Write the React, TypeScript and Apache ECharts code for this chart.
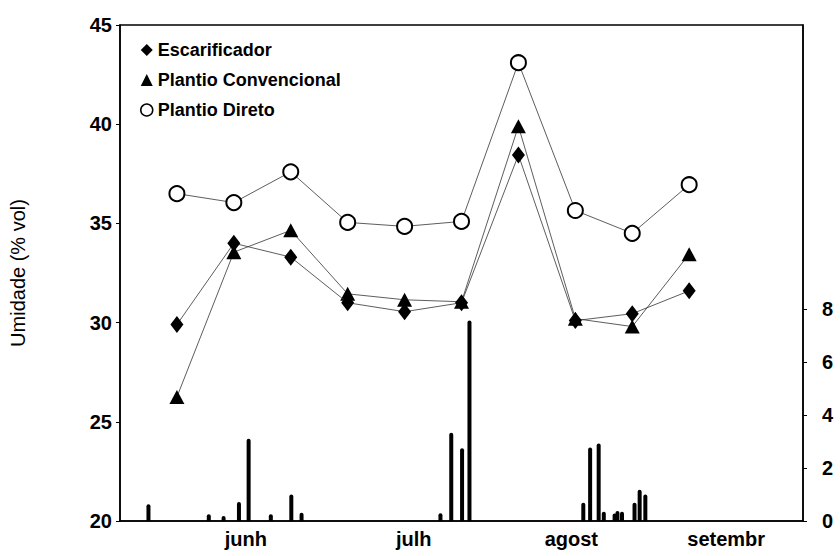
import React, { useEffect, useRef } from "react";
import * as echarts from "echarts";

// Sampling days (x axis in days from the start of the plotted period)
const sampleDays = [10, 20, 30, 40, 50, 60, 70, 80, 90, 100];
const escarificador = [29.9, 34.0, 33.3, 31.0, 30.55, 31.0, 38.45, 30.1, 30.45, 31.6];
const plantioConvencional = [26.25, 33.55, 34.65, 31.45, 31.15, 31.05, 39.9, 30.2, 29.8, 33.45];
const plantioDireto = [36.5, 36.05, 37.6, 35.05, 34.85, 35.1, 43.1, 35.65, 34.5, 36.95];

// Daily rainfall bars (right axis)
const rainDays = [5.0, 15.6, 18.2, 20.9, 22.6, 26.5, 30.1, 31.9, 56.3, 58.2, 60.1, 61.4, 81.4, 82.6, 84.1, 85.0, 86.9, 87.4, 88.2, 90.4, 91.3, 92.3];
const rainValues = [0.63, 0.25, 0.19, 0.72, 3.1, 0.25, 1.0, 0.31, 0.29, 3.33, 2.74, 7.56, 0.69, 2.77, 2.92, 0.35, 0.28, 0.38, 0.35, 0.69, 1.18, 1.0];

// Month labels along the x axis
const monthTicks = [22.1, 51.6, 79.3, 106.5];
const monthLabels = ["junh", "julh", "agost", "setembr"];

const leftTicks = [20, 25, 30, 35, 40, 45];
const rightTicks = [0, 2, 4, 6, 8];

const FONT = "Liberation Sans, Arial, sans-serif";

export default function App() {
  const ref = useRef<HTMLDivElement>(null);

  useEffect(() => {
    if (!ref.current) return;
    const chart = echarts.init(ref.current, null, { renderer: "svg" });
    const pair = (xs: number[], ys: number[]) => xs.map((x, i) => [x, ys[i]]);
    const lineStyle = { color: "#333", width: 0.8 };

    chart.setOption({
      animation: false,
      backgroundColor: "#fff",
      textStyle: { fontFamily: FONT, color: "#000" },
      grid: {
        left: 118,
        right: 37,
        top: 25,
        bottom: 35,
        show: true,
        borderColor: "#000",
        borderWidth: 1.5,
        backgroundColor: "transparent",
      },
      legend: {
        orient: "vertical",
        left: 135,
        top: 35,
        itemWidth: 12,
        itemHeight: 12,
        itemGap: 10,
        textStyle: { fontFamily: FONT, fontSize: 18, fontWeight: "bold", color: "#000", lineHeight: 20 },
        data: [
          { name: "Escarificador", icon: "diamond" },
          { name: "Plantio Convencional", icon: "triangle" },
          { name: "Plantio Direto", icon: "circle", itemStyle: { color: "#fff", borderColor: "#000", borderWidth: 1.5 } },
        ],
      },
      xAxis: {
        type: "value",
        min: 0,
        max: 120,
        axisLine: { show: true, lineStyle: { color: "#000", width: 1.5 } },
        axisTick: { show: false },
        splitLine: { show: false },
        axisLabel: {
          customValues: monthTicks,
          margin: 8,
          fontSize: 20,
          fontWeight: "bold",
          color: "#000",
          fontFamily: FONT,
          formatter: (v: number) => {
            let best = 0;
            monthTicks.forEach((t, i) => {
              if (Math.abs(t - v) < Math.abs(monthTicks[best] - v)) best = i;
            });
            return monthLabels[best];
          },
        },
      },
      yAxis: [
        {
          type: "value",
          min: 20,
          max: 45,
          interval: 5,
          name: "Umidade (% vol)",
          nameLocation: "middle",
          nameGap: 92,
          nameTextStyle: { fontFamily: FONT, fontSize: 20, color: "#000" },
          axisLine: { show: true, lineStyle: { color: "#000", width: 1.5 } },
          axisTick: { show: true, customValues: leftTicks, length: 4, lineStyle: { color: "#000" } },
          splitLine: { show: false },
          axisLabel: {
            customValues: leftTicks,
            margin: 8,
            fontSize: 20,
            fontWeight: "bold",
            color: "#000",
            fontFamily: FONT,
          },
        },
        {
          type: "value",
          min: 0,
          max: 18.7,
          position: "right",
          axisLine: { show: true, lineStyle: { color: "#000", width: 1.5 } },
          axisTick: { show: true, customValues: rightTicks, length: 4, lineStyle: { color: "#000" } },
          splitLine: { show: false },
          axisLabel: {
            customValues: rightTicks,
            margin: 19,
            fontSize: 20,
            fontWeight: "bold",
            color: "#000",
            fontFamily: FONT,
          },
        },
      ],
      series: [
        {
          name: "Chuva",
          type: "bar",
          yAxisIndex: 1,
          barWidth: 4,
          itemStyle: { color: "#000", borderRadius: [2, 2, 0, 0] },
          data: pair(rainDays, rainValues),
          z: 1,
        },
        {
          name: "Plantio Direto",
          type: "line",
          symbol: "circle",
          symbolSize: 15,
          showSymbol: true,
          lineStyle,
          itemStyle: { color: "#fff", borderColor: "#000", borderWidth: 2 },
          data: pair(sampleDays, plantioDireto),
          z: 3,
        },
        {
          name: "Plantio Convencional",
          type: "line",
          symbol: "triangle",
          symbolSize: [15, 14],
          lineStyle,
          itemStyle: { color: "#000" },
          data: pair(sampleDays, plantioConvencional),
          z: 4,
        },
        {
          name: "Escarificador",
          type: "line",
          symbol: "diamond",
          symbolSize: [13, 17],
          lineStyle,
          itemStyle: { color: "#000" },
          data: pair(sampleDays, escarificador),
          z: 5,
        },
      ],
    });

    return () => chart.dispose();
  }, []);

  return (
    <div
      ref={ref}
      style={{ position: "fixed", left: 0, top: 0, width: 840, height: 556, background: "#fff" }}
    />
  );
}
